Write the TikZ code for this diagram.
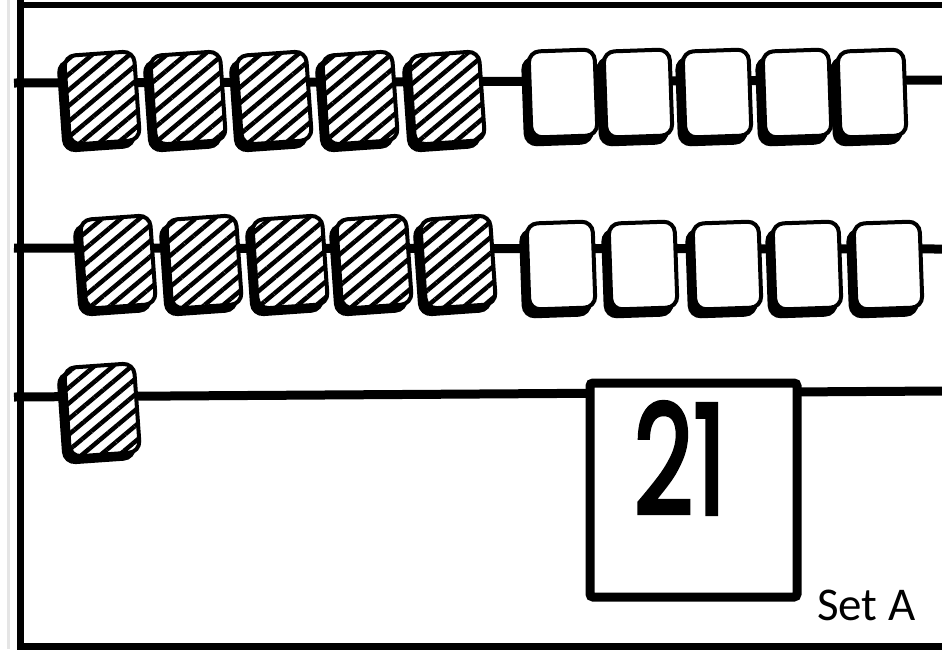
\documentclass[tikz,border=0pt]{standalone}
\usepackage{fontspec}
\newfontfamily\numfont[FakeBold=3]{Poppins}
\newfontfamily\labelfont{Carlito}
\usetikzlibrary{patterns.meta}
\tikzset{
  frameline/.style={line width=#1, draw=black},
  wire/.style={line width=9pt, draw=black},
  beadbase/.style={rounded corners=11pt, line width=4pt, draw=black, inner sep=0pt},
  hsize/.style={minimum width=70pt, minimum height=89pt, rotate=4},
  wsize/.style={minimum width=66pt, minimum height=86pt, rotate=2},
  hshadow/.style={beadbase, hsize, fill=black},
  wshadow/.style={beadbase, wsize, fill=black},
  hbead/.style={beadbase, hsize, preaction={fill=white},
    pattern={Lines[angle=40,distance=12pt,line width=4.5pt]}},
  wbead/.style={beadbase, wsize, fill=white},
  answerbox/.style={draw=black, line width=9pt, fill=white, rounded corners=3pt,
    minimum width=207pt, minimum height=214pt, inner sep=0pt},
}
\begin{document}
\begin{tikzpicture}[x=1pt,y=-1pt]
\useasboundingbox (0,0) rectangle (942,649);
% frame
\draw[line width=3pt, draw=black!10] (8.5,0) -- (8.5,649);
\coordinate (tl) at (17,5); \coordinate (tr) at (942,5);
\coordinate (lt) at (20.5,0); \coordinate (lb) at (20.5,649);
\coordinate (bl) at (17,646.5); \coordinate (br) at (942,646.5);
\draw[frameline=6pt] (tl) -- (tr);
\draw[frameline=7pt] (lt) -- (lb);
\draw[frameline=7pt] (bl) -- (br);
% wires
\coordinate (w1a) at (14,83); \coordinate (w1b) at (942,80);
\coordinate (w2a) at (14,248); \coordinate (w2b) at (942,249);
\coordinate (w3a) at (14,397); \coordinate (w3b) at (942,391);
\draw[wire] (w1a) -- (w1b);
\draw[wire] (w2a) -- (w2b);
\draw[wire] (w3a) -- (w3b);
% row 1
\foreach \x [count=\i] in {102,188,274,360,447} {
  \node[hshadow] (h1\i s) at (\x-5.5,104) {};
  \node[hbead] (h1\i) at (\x,98) {};
}
\foreach \x [count=\i] in {563,638,717,797,872} {
  \node[wshadow] (w1\i s) at (\x-5.5,100.5) {};
  \node[wbead] (w1\i) at (\x,93.5) {};
}
% row 2
\foreach \x [count=\i] in {118,204,290,374,458} {
  \node[hshadow] (h2\i s) at (\x-5.5,268) {};
  \node[hbead] (h2\i) at (\x,262) {};
}
\foreach \x [count=\i] in {561,643,727,807,888} {
  \node[wshadow] (w2\i s) at (\x-5.5,272.5) {};
  \node[wbead] (w2\i) at (\x,265.5) {};
}
% row 3
\node[hshadow] (h31s) at (96.5,416) {};
\node[hbead] (h31) at (102,410) {};
% answer box
\node[answerbox] (box) at (693.5,490) {};
\node[font=\numfont\fontsize{152}{152}\selectfont, xscale=0.68, inner sep=0pt] (num) at (680,458) {21};
\node[font=\labelfont\fontsize{47}{47}\selectfont, anchor=base west, inner sep=0pt] (set) at (817,620) {Set A};
\end{tikzpicture}
\end{document}
